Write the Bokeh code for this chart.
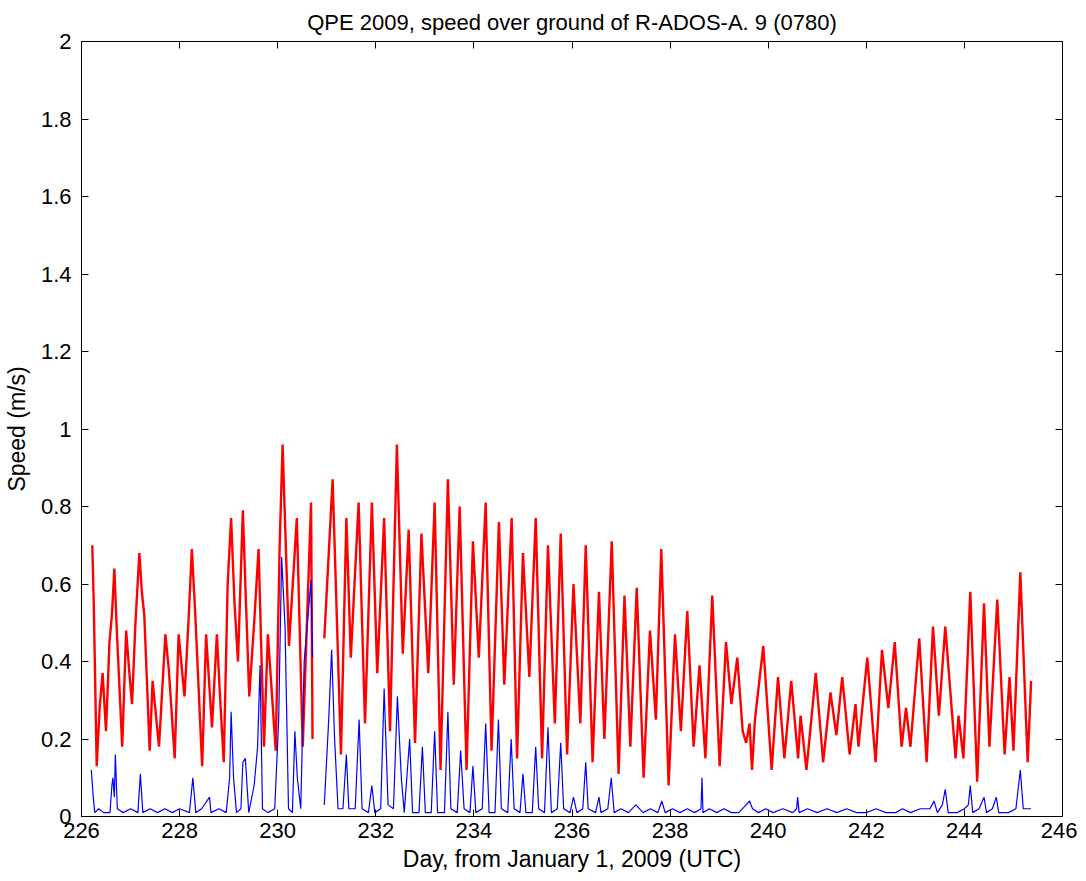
from bokeh.plotting import figure
from bokeh.models import Range1d, FixedTicker, LinearAxis
from bokeh.embed import file_html
from bokeh.resources import INLINE

NaN = float("nan")

title_text = "QPE 2009, speed over ground of R-ADOS-A. 9 (0780)"
x_label = "Day, from January 1, 2009 (UTC)"
y_label = "Speed (m/s)"

x_ticks = [226, 228, 230, 232, 234, 236, 238, 240, 242, 244, 246]
y_ticks = [0, 0.2, 0.4, 0.6, 0.8, 1, 1.2, 1.4, 1.6, 1.8, 2]
y_tick_labels = ["0", "0.2", "0.4", "0.6", "0.8", "1", "1.2", "1.4", "1.6", "1.8", "2"]

# red series (peaks, troughs and shoulders)
red_day = [
    226.22, 226.25, 226.31, 226.37, 226.43, 226.50, 226.57, 226.62, 226.67, 226.72,
    226.83, 226.91, 226.97, 227.03, 227.10, 227.18, 227.23, 227.28, 227.39, 227.45,
    227.58, 227.71, 227.78, 227.90, 227.98, 228.10, 228.18, 228.25, 228.32, 228.46,
    228.54, 228.66, 228.76, 228.82, 228.90, 228.98, 229.05, 229.12, 229.19, 229.29,
    229.34, 229.42, 229.52, 229.61, 229.72, 229.80, 229.96, 230.04, 230.10, 230.16,
    230.23, 230.39, 230.51, 230.68, 230.71, NaN,
    230.95, 231.12, 231.29, 231.40, 231.49, 231.65, 231.78, 231.92, 232.03, 232.17,
    232.29, 232.43, 232.55, 232.67, 232.80, 232.93, 233.07, 233.20, 233.32, 233.47,
    233.59, 233.71, 233.85, 233.98, 234.10, 234.24, 234.36, 234.51, 234.62, 234.77,
    234.88, 235.00, 235.13, 235.26, 235.39, 235.51, 235.65, 235.77, 235.90, 236.03,
    236.17, 236.28, 236.42, 236.55, 236.66, 236.81, 236.95, 237.07, 237.19, 237.32,
    237.46, 237.59, 237.71, 237.82, 237.97, 238.10, 238.22, 238.35, 238.48, 238.60,
    238.72, 238.86, 239.01, 239.14, 239.25, 239.37, 239.48, 239.55, 239.62, 239.67,
    239.73, 239.90, 240.07, 240.20, 240.33, 240.47, 240.61, 240.66, 240.78, 240.97,
    241.12, 241.27, 241.39, 241.51, 241.66, 241.78, 241.84, 242.02, 242.19, 242.32,
    242.45, 242.58, 242.72, 242.81, 242.90, 243.08, 243.23, 243.36, 243.48, 243.61,
    243.82, 243.88, 243.98, 244.12, 244.26, 244.40, 244.51, 244.67, 244.82, 244.92,
    245.00, 245.14, 245.29, 245.36,
]
red_speed = [
    0.70, 0.55, 0.13, 0.28, 0.37, 0.22, 0.45, 0.52, 0.64, 0.48,
    0.18, 0.48, 0.38, 0.29, 0.50, 0.68, 0.58, 0.52, 0.17, 0.35,
    0.18, 0.47, 0.38, 0.15, 0.47, 0.31, 0.50, 0.69, 0.52, 0.13,
    0.47, 0.23, 0.47, 0.32, 0.14, 0.60, 0.77, 0.55, 0.40, 0.79,
    0.60, 0.31, 0.50, 0.69, 0.18, 0.47, 0.17, 0.70, 0.96, 0.72,
    0.44, 0.77, 0.18, 0.81, 0.20, NaN,
    0.46, 0.87, 0.16, 0.77, 0.41, 0.81, 0.24, 0.81, 0.37, 0.77,
    0.22, 0.96, 0.42, 0.74, 0.19, 0.73, 0.37, 0.81, 0.12, 0.87,
    0.34, 0.80, 0.12, 0.71, 0.41, 0.81, 0.17, 0.76, 0.34, 0.77,
    0.15, 0.68, 0.36, 0.77, 0.15, 0.70, 0.24, 0.73, 0.16, 0.60,
    0.24, 0.70, 0.14, 0.58, 0.20, 0.71, 0.11, 0.57, 0.18, 0.59,
    0.10, 0.48, 0.25, 0.69, 0.08, 0.47, 0.22, 0.53, 0.18, 0.39,
    0.15, 0.57, 0.13, 0.45, 0.29, 0.41, 0.22, 0.19, 0.24, 0.12,
    0.25, 0.44, 0.12, 0.36, 0.15, 0.35, 0.15, 0.26, 0.12, 0.37,
    0.14, 0.32, 0.21, 0.36, 0.16, 0.29, 0.18, 0.41, 0.14, 0.43,
    0.28, 0.45, 0.18, 0.28, 0.18, 0.46, 0.14, 0.49, 0.26, 0.49,
    0.15, 0.26, 0.15, 0.58, 0.09, 0.55, 0.18, 0.56, 0.16, 0.36,
    0.17, 0.63, 0.14, 0.35,
]

# blue series
blue_day = [
    226.20, 226.24, 226.27, 226.35, 226.45, 226.58, 226.62, 226.64, 226.67, 226.69,
    226.73, 226.85, 227.00, 227.15, 227.20, 227.25, 227.40, 227.55, 227.70, 227.85,
    228.00, 228.20, 228.27, 228.33, 228.45, 228.61, 228.64, 228.80, 228.95, 229.02,
    229.05, 229.10, 229.16, 229.25, 229.29, 229.34, 229.41, 229.52, 229.59, 229.64,
    229.69, 229.80, 229.94, 230.02, 230.08, 230.15, 230.22, 230.30, 230.35, 230.40,
    230.47, 230.54, 230.68, 230.71, NaN,
    230.95, 231.04, 231.10, 231.16, 231.23, 231.33, 231.40, 231.45, 231.58, 231.66,
    231.72, 231.85, 231.92, 231.98, 232.10, 232.17, 232.25, 232.36, 232.44, 232.52,
    232.58, 232.69, 232.75, 232.88, 232.95, 233.01, 233.13, 233.20, 233.26, 233.40,
    233.47, 233.53, 233.66, 233.73, 233.80, 233.92, 233.98, 234.04, 234.17, 234.24,
    234.31, 234.43, 234.50, 234.56, 234.69, 234.76, 234.82, 234.94, 235.00, 235.06,
    235.19, 235.26, 235.32, 235.44, 235.51, 235.58, 235.70, 235.77, 235.83, 235.96,
    236.03, 236.10, 236.22, 236.28, 236.33, 236.48, 236.55, 236.59, 236.73, 236.80,
    236.86, 237.00, 237.15, 237.30, 237.45, 237.60, 237.75, 237.83, 237.90, 238.05,
    238.20, 238.35, 238.50, 238.63, 238.65, 238.67, 238.80, 238.95, 239.10, 239.25,
    239.40, 239.55, 239.62, 239.68, 239.80, 239.95, 240.10, 240.30, 240.50, 240.58,
    240.60, 240.63, 240.80, 241.00, 241.20, 241.40, 241.60, 241.80, 242.00, 242.20,
    242.40, 242.60, 242.74, 242.90, 243.10, 243.30, 243.38, 243.45, 243.55, 243.61,
    243.67, 243.85, 244.00, 244.08, 244.12, 244.17, 244.30, 244.40, 244.45, 244.57,
    244.65, 244.70, 244.90, 245.05, 245.14, 245.20, 245.30, 245.36,
]
blue_speed = [
    0.12, 0.05, 0.01, 0.02, 0.01, 0.01, 0.08, 0.10, 0.05, 0.16,
    0.02, 0.01, 0.02, 0.01, 0.11, 0.01, 0.02, 0.01, 0.02, 0.01,
    0.02, 0.01, 0.10, 0.01, 0.02, 0.05, 0.01, 0.02, 0.01, 0.10,
    0.27, 0.10, 0.01, 0.02, 0.14, 0.15, 0.01, 0.08, 0.18, 0.39,
    0.02, 0.01, 0.02, 0.25, 0.67, 0.49, 0.02, 0.01, 0.22, 0.10,
    0.02, 0.40, 0.61, 0.41, NaN,
    0.03, 0.25, 0.43, 0.20, 0.02, 0.02, 0.16, 0.02, 0.02, 0.25,
    0.02, 0.01, 0.08, 0.01, 0.02, 0.33, 0.03, 0.02, 0.31, 0.10,
    0.01, 0.20, 0.01, 0.01, 0.18, 0.01, 0.01, 0.22, 0.01, 0.01,
    0.27, 0.02, 0.01, 0.17, 0.02, 0.01, 0.13, 0.01, 0.02, 0.24,
    0.01, 0.01, 0.25, 0.02, 0.01, 0.20, 0.02, 0.01, 0.11, 0.01,
    0.01, 0.18, 0.02, 0.01, 0.23, 0.01, 0.02, 0.19, 0.02, 0.01,
    0.05, 0.01, 0.02, 0.14, 0.02, 0.01, 0.05, 0.01, 0.02, 0.10,
    0.01, 0.02, 0.01, 0.03, 0.01, 0.02, 0.01, 0.04, 0.01, 0.02,
    0.01, 0.02, 0.01, 0.02, 0.10, 0.01, 0.02, 0.01, 0.02, 0.01,
    0.01, 0.03, 0.04, 0.02, 0.01, 0.02, 0.01, 0.02, 0.01, 0.02,
    0.05, 0.01, 0.02, 0.01, 0.02, 0.01, 0.02, 0.01, 0.01, 0.02,
    0.01, 0.01, 0.02, 0.01, 0.02, 0.02, 0.04, 0.01, 0.03, 0.07,
    0.01, 0.01, 0.02, 0.03, 0.08, 0.01, 0.02, 0.05, 0.01, 0.02,
    0.05, 0.01, 0.01, 0.02, 0.12, 0.02, 0.02, 0.02,
]

FONT = "Liberation Sans"

p = figure(
    frame_width=981, frame_height=775,
    x_range=Range1d(226, 246), y_range=Range1d(0, 2),
    output_backend="svg", toolbar_location=None,
    title=title_text,
    min_border_left=75, min_border_right=15, min_border_top=10, min_border_bottom=10,
)
p.title.align = "center"
p.title.text_font = FONT
p.title.text_font_size = "22px"
p.title.text_font_style = "normal"
p.title.text_color = "black"
p.title.standoff = 14

p.grid.visible = False
p.outline_line_color = "black"
p.background_fill_color = "white"
p.border_fill_color = "white"

p.line(red_day, red_speed, line_color="#ff0000", line_width=2.4)
p.line(blue_day, blue_speed, line_color="#0000ff", line_width=1.2)

xa = p.xaxis[0]
xa.ticker = FixedTicker(ticks=x_ticks)
xa.axis_label = x_label
ya = p.yaxis[0]
ya.ticker = FixedTicker(ticks=y_ticks)
ya.major_label_overrides = dict(zip(y_ticks, y_tick_labels))
ya.axis_label = y_label

for ax in (xa, ya):
    ax.major_tick_in = 7
    ax.major_tick_out = 0
    ax.minor_tick_line_color = None
    ax.axis_line_color = "black"
    ax.major_tick_line_color = "black"
    ax.major_label_text_font = FONT
    ax.major_label_text_font_size = "22px"
    ax.major_label_text_color = "black"
    ax.axis_label_text_font = FONT
    ax.axis_label_text_font_size = "23px"
    ax.axis_label_text_font_style = "normal"
    ax.axis_label_text_color = "black"
xa.major_label_standoff = 6
xa.axis_label_standoff = 5
ya.major_label_standoff = 10
ya.axis_label_standoff = 8

right = LinearAxis(ticker=FixedTicker(ticks=y_ticks))
top = LinearAxis(ticker=FixedTicker(ticks=x_ticks))
for ax in (right, top):
    ax.major_tick_in = 7
    ax.major_tick_out = 0
    ax.minor_tick_line_color = None
    ax.major_label_text_font_size = "0px"
    ax.major_label_text_color = None
    ax.major_label_standoff = 0
    ax.axis_line_color = "black"
    ax.major_tick_line_color = "black"
p.add_layout(right, "right")
p.add_layout(top, "above")

open("out.html", "w").write(file_html(p, INLINE))
